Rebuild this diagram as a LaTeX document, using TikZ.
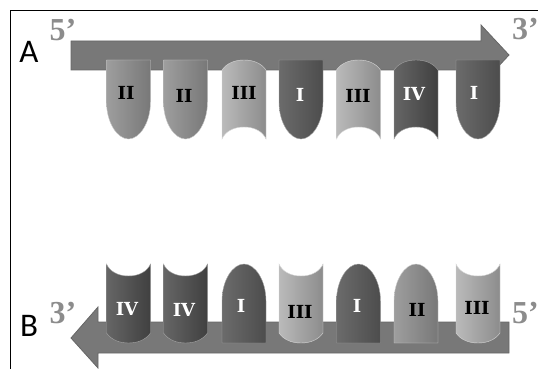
\documentclass[tikz,border=0pt]{standalone}
\usepackage{fontspec}
\newfontfamily\panelfont{Carlito}
\newfontfamily\primefont{Liberation Serif}
\newfontfamily\tilefont{DejaVu Serif}
\definecolor{strandgray}{gray}{0.47}
\definecolor{primegray}{gray}{0.55}
\tikzset{
    strand/.style={draw=strandgray!85!black, line width=0.8pt, fill=strandgray},
    tileOne/.style={left color=black!58, right color=black!70, draw=black!35, line width=0.4pt},
    tileTwo/.style={left color=black!38, right color=black!53, draw=black!20, line width=0.4pt},
    tileThree/.style={left color=black!27, right color=black!45, draw=black!15, line width=0.4pt},
    tileFour/.style={left color=black!60, right color=black!75, draw=black!35, line width=0.4pt},
    % flat at one end, rounded at the other
    domeTile/.pic={
        \path[pic actions] (0,0) -- (44,0) -- (44,42) .. controls (44,63) and (33,79) .. (22,79) .. controls (11,79) and (0,63) .. (0,42) -- cycle;
    },
    % hollowed at one end, bulging at the other
    barrelTile/.pic={
        \path[pic actions] (0,79) -- (0,10) .. controls (5,3) and (13,0) .. (22,0) .. controls (31,0) and (39,3) .. (44,10) -- (44,79) .. controls (41,72) and (33,67) .. (22,67) .. controls (11,67) and (3,72) .. (0,79) -- cycle;
    },
    tileLabel/.style={font=\tilefont\bfseries\fontsize{18}{18}\selectfont, inner sep=0pt},
    primeLabel/.style={font=\primefont\bfseries\fontsize{32}{32}\selectfont, text=primegray, inner sep=0pt},
    panelLabel/.style={font=\panelfont\fontsize{33}{33}\selectfont, inner sep=0pt}
}
\begin{document}
\begin{tikzpicture}[x=1pt, y=-1pt]
    \useasboundingbox (0,0) rectangle (538,369);

    \coordinate (frameTop) at (538,10.5);
    \coordinate (frameCorner) at (10.5,10.5);
    \coordinate (frameBottom) at (10.5,369);
    \draw[line width=1.6pt] (frameTop) -- (frameCorner) -- (frameBottom);

    % the two strands
    \draw[strand] (71,41) -- (481,41) -- (481,25) -- (509,55) -- (481,85) -- (481,70) -- (71,70) -- cycle;
    \draw[strand] (509,322) -- (98,322) -- (98,307) -- (71,338) -- (98,368) -- (98,353) -- (509,353) -- cycle;

    % tiles on the upper strand
    \foreach \tx/\tpic/\tstyle in {106.5/domeTile/tileTwo, 163.5/domeTile/tileTwo, 222/barrelTile/tileThree, 279/domeTile/tileOne, 336.5/barrelTile/tileThree, 394/barrelTile/tileFour, 456/domeTile/tileOne}
        \pic[\tstyle] at (\tx,60) {\tpic};

    % tiles on the lower strand, same shapes turned over
    \foreach \tx/\tpic/\tstyle in {106.5/barrelTile/tileFour, 163.5/barrelTile/tileFour, 222/domeTile/tileOne, 279/barrelTile/tileThree, 336.5/domeTile/tileOne, 394/domeTile/tileTwo, 456/barrelTile/tileThree}
        \pic[\tstyle, yscale=-1] at (\tx,343) {\tpic};

    \node[tileLabel] (aTwoA) at (126,93) {II};
    \node[tileLabel] (aTwoB) at (184,96) {II};
    \node[tileLabel] (aThreeA) at (244,93) {III};
    \node[tileLabel, text=white] (aOneA) at (300,95) {I};
    \node[tileLabel] (aThreeB) at (358,96) {III};
    \node[tileLabel, text=white] (aFour) at (414,94) {IV};
    \node[tileLabel, text=white] (aOneB) at (474,93) {I};

    \node[tileLabel, text=white] (bFourA) at (127,309) {IV};
    \node[tileLabel, text=white] (bFourB) at (184,310) {IV};
    \node[tileLabel, text=white] (bOneA) at (241,306) {I};
    \node[tileLabel] (bThreeA) at (300,312) {III};
    \node[tileLabel, text=white] (bOneB) at (357,306) {I};
    \node[tileLabel] (bTwo) at (417,310) {II};
    \node[tileLabel] (bThreeB) at (477,308) {III};

    \node[primeLabel] (fiveA) at (63,30) {5’};
    \node[primeLabel] (threeA) at (525.5,29) {3’};
    \node[primeLabel] (threeB) at (63,313) {3’};
    \node[primeLabel] (fiveB) at (525.5,313) {5’};

    \node[panelLabel] (panelA) at (29,52) {A};
    \node[panelLabel] (panelB) at (29,326) {B};
\end{tikzpicture}
\end{document}
